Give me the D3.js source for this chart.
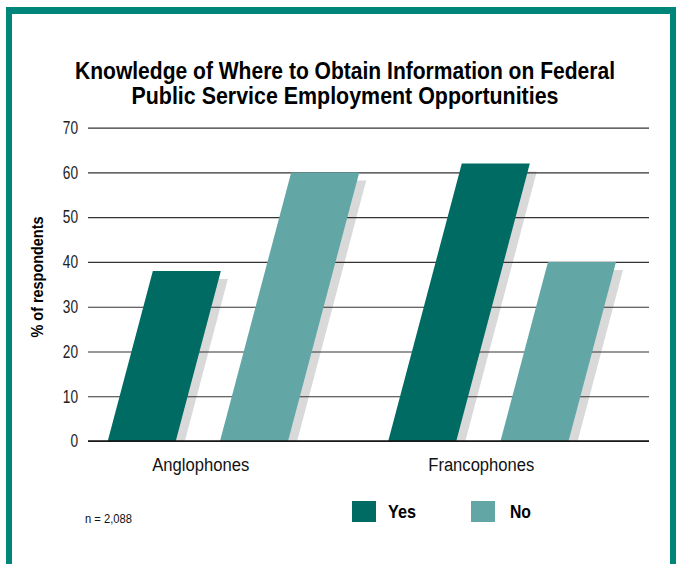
<!DOCTYPE html>
<html>
<head>
<meta charset="utf-8">
<script src="https://cdn.jsdelivr.net/npm/d3@7"></script>
<style>
  html, body { margin: 0; padding: 0; background: #fff; }
  svg { display: block; }
  text { font-family: "Liberation Sans", Arial, Helvetica, sans-serif; }
</style>
</head>
<body>
<svg id="chart" width="676" height="564"></svg>
<script>
// Survey results: share of respondents who know where to find job information
const categories = ["Anglophones", "Francophones"];
const seriesNames = ["Yes", "No"];
const yesValues = [38, 62];
const noValues = [60, 40];
const yTicks = [0, 10, 20, 30, 40, 50, 60, 70];
const titleLines = [
  "Knowledge of Where to Obtain Information on Federal",
  "Public Service Employment Opportunities"
];
const yLabel = "% of respondents";
const sampleNote = "n = 2,088";

const colors = { Yes: "#006b63", No: "#62a6a6" };
const frameColor = "#00857a";
const shadowColor = "#d9d9d9";

const W = 676, H = 564;
const plot = { left: 88, right: 649, top: 127.7, bottom: 441 };
const slant = 0.265;          // horizontal lean per pixel of bar height
const shadowOffset = [7, 8];

const svg = d3.select("#chart");

// Squeeze text horizontally to a condensed look
function condense(sel, factor) {
  sel.each(function () {
    const w = this.getComputedTextLength();
    d3.select(this).attr("textLength", w * factor).attr("lengthAdjust", "spacingAndGlyphs");
  });
}
function fitWidth(sel, width) {
  sel.attr("textLength", width).attr("lengthAdjust", "spacingAndGlyphs");
}

// Frame: open at the bottom
svg.append("rect").attr("x", 6).attr("y", 7).attr("width", 670).attr("height", 7).attr("fill", frameColor);
svg.append("rect").attr("x", 6).attr("y", 7).attr("width", 6).attr("height", H - 7).attr("fill", frameColor);
svg.append("rect").attr("x", 670).attr("y", 7).attr("width", 6).attr("height", H - 7).attr("fill", frameColor);

// Title
const titleWidths = [540, 427];
svg.append("g").selectAll("text").data(titleLines).join("text")
  .attr("x", 345).attr("y", (d, i) => 79 + i * 25)
  .attr("text-anchor", "middle")
  .attr("font-size", 23).attr("font-weight", "bold").attr("fill", "#000")
  .text(d => d)
  .each(function (d, i) { fitWidth(d3.select(this), titleWidths[i]); });

const y = d3.scaleLinear().domain([0, 70]).range([plot.bottom, plot.top]);
const x0 = d3.scaleBand().domain(categories).range([plot.left, plot.right]).paddingInner(0);
const x1 = d3.scaleBand().domain(seriesNames).range([0, 180.3]).paddingInner(0.394).paddingOuter(0);
const groupStart = c => x0(c) + x0.bandwidth() / 2 - 120.5;

const rows = categories.map((c, i) => ({ category: c, Yes: yesValues[i], No: noValues[i] }));
const bars = [];
rows.forEach(r => seriesNames.forEach(s => bars.push({ category: r.category, series: s, value: r[s] })));

function barPath(d, dx = 0, dy = 0) {
  const b = groupStart(d.category) + x1(d.series) + dx;
  const w = x1.bandwidth();
  const y0 = y(0) + dy, yv = y(d.value) + dy;
  const s = slant * (y0 - yv);
  return `M${b},${y0}L${b + w},${y0}L${b + w + s},${yv}L${b + s},${yv}Z`;
}

// Shadows, cut off at the baseline
svg.append("clipPath").attr("id", "plotClip")
  .append("rect").attr("x", 0).attr("y", 0).attr("width", W).attr("height", plot.bottom);
svg.append("g").attr("clip-path", "url(#plotClip)")
  .selectAll("path").data(bars).join("path")
  .attr("d", d => barPath(d, shadowOffset[0], shadowOffset[1]))
  .attr("fill", shadowColor);

// Gridlines and y axis labels
const yAxis = d3.axisLeft(y).tickValues(yTicks).tickSize(-(plot.right - plot.left)).tickPadding(10);
const gy = svg.append("g").attr("transform", `translate(${plot.left},0)`).call(yAxis);
gy.select(".domain").remove();
gy.selectAll(".tick line").attr("stroke", "#333").attr("stroke-width", 1.2);
gy.selectAll(".tick text")
  .attr("font-size", 18).attr("fill", "#222")
  .attr("font-family", "'Liberation Sans', Arial, sans-serif")
  .call(condense, 0.76);

// Bars
svg.append("g").selectAll("path").data(bars).join("path")
  .attr("d", d => barPath(d))
  .attr("fill", d => colors[d.series]);

// Baseline
svg.append("line")
  .attr("x1", plot.left).attr("x2", plot.right)
  .attr("y1", y(0)).attr("y2", y(0))
  .attr("stroke", "#111").attr("stroke-width", 1.3);

// Category labels
const categoryWidths = [97, 106];
svg.append("g").selectAll("text").data(categories).join("text")
  .attr("x", c => groupStart(c) + 93)
  .attr("y", 471)
  .attr("text-anchor", "middle")
  .attr("font-size", 18).attr("fill", "#111")
  .text(c => c)
  .each(function (d, i) { fitWidth(d3.select(this), categoryWidths[i]); });

// Y axis title
svg.append("text")
  .attr("transform", "translate(43,277) rotate(-90)")
  .attr("text-anchor", "middle")
  .attr("font-size", 17).attr("font-weight", "bold").attr("fill", "#000")
  .text(yLabel)
  .call(fitWidth, 121);

// Legend
const legendX = { Yes: 352, No: 471 };
const legendTextWidths = { Yes: 28, No: 21 };
const legend = svg.append("g").selectAll("g").data(seriesNames).join("g")
  .attr("transform", s => `translate(${legendX[s]},501)`);
legend.append("rect").attr("width", 24).attr("height", 21).attr("fill", s => colors[s]);
legend.append("text")
  .attr("x", s => s === "Yes" ? 36 : 39).attr("y", 17)
  .attr("font-size", 18).attr("font-weight", "bold").attr("fill", "#000")
  .text(s => s)
  .each(function (s) { fitWidth(d3.select(this), legendTextWidths[s]); });

// Sample size
svg.append("text")
  .attr("x", 85).attr("y", 523)
  .attr("font-size", 12.5).attr("fill", "#111")
  .text(sampleNote)
  .call(fitWidth, 47);
</script>
</body>
</html>
